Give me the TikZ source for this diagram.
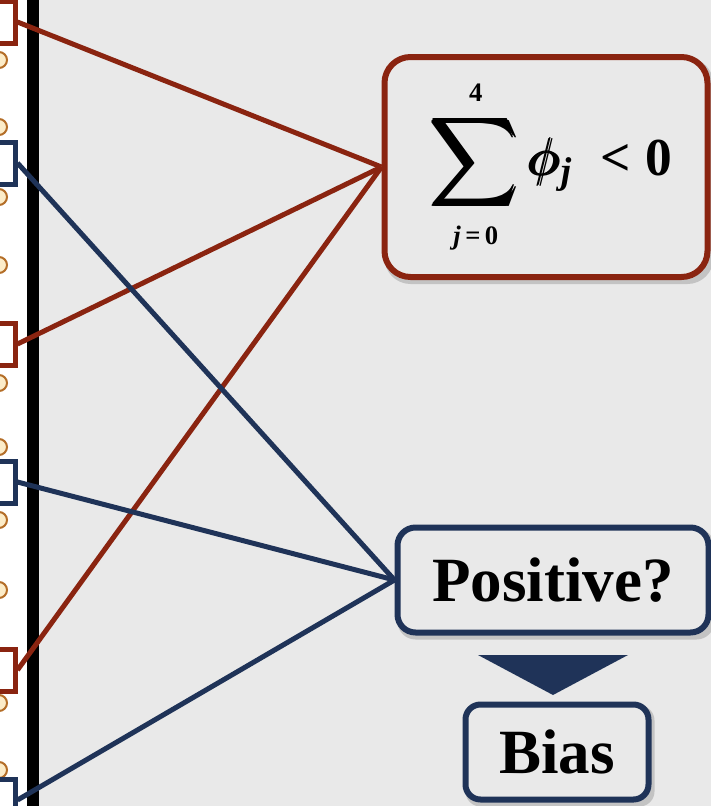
\documentclass[tikz,border=0pt]{standalone}
\usepackage{amsmath}
\usepackage{fontspec}
\setmainfont{Liberation Serif}
\definecolor{cred}{RGB}{138,36,16}
\definecolor{cblue}{RGB}{31,51,88}
\definecolor{bg}{RGB}{233,233,233}
\definecolor{ballfill}{RGB}{252,236,200}
\definecolor{ballrim}{RGB}{180,110,40}
\newcommand\bigsummation{\mathop{\vcenter{\hbox{\scalebox{1.15}{\pmb{$\displaystyle\sum$}}}}}\limits}
\newcommand\bfi[1]{\text{\bfseries\itshape #1}}
\newcommand\bfu[1]{\text{\bfseries #1}}
\newsavebox\formulabox
\AtBeginDocument{\sbox\formulabox{$\displaystyle\bigsummation_{\scriptscriptstyle\bfi{j}\bfu{\,=\,0}}^{\scriptscriptstyle\bfu{4}}\pmb{\phi}_{\bfi{j}}\mskip 4mu\mathrel{\bfu{<}}\bfu{0}$}}
\pgfdeclarelayer{back}
\pgfdeclarelayer{shade}
\pgfsetlayers{back,shade,main}
\tikzset{
  sumbox/.style={draw=cred,line width=6pt,fill=bg,rounded corners=26pt,inner sep=0pt},
  bluebox/.style={draw=cblue,line width=6pt,fill=bg,rounded corners=18pt,inner sep=0pt,
    font=\fontsize{63}{70}\selectfont\bfseries},
  redsq/.style={draw=cred,line width=5pt,fill=white,minimum width=34pt,minimum height=42pt,inner sep=0pt},
  bluesq/.style={draw=cblue,line width=5pt,fill=white,minimum width=34pt,minimum height=42pt,inner sep=0pt},
  redline/.style={draw=cred,line width=5pt},
  blueline/.style={draw=cblue,line width=5pt},
  ball/.style={fill=ballfill,draw=ballrim,line width=2pt},
  shadowfill/.style={fill=black,opacity=0.16}
}
\begin{document}
\begin{tikzpicture}[x=1pt,y=-1pt]
\useasboundingbox (0,0) rectangle (711,806);
% left squares
\node[redsq] (r1) at (-2,22) {};
\node[bluesq] (b1) at (-2,163) {};
\node[redsq] (r2) at (-2,344) {};
\node[bluesq] (b2) at (-2,482) {};
\node[redsq] (r3) at (-2,670) {};
\node[bluesq] (b3) at (-2,800) {};
% boxes
\node[sumbox,minimum width=323pt,minimum height=220pt] (sumnode) at (546,167) {\hspace*{12pt}\raisebox{-5pt}{\resizebox{241pt}{!}{\usebox\formulabox}}};
\node[bluebox,minimum width=311pt,minimum height=105pt] (pos) at (553,580) {Positive?};
\node[bluebox,rounded corners=15pt,minimum width=183pt,minimum height=95pt] (bias) at (557,752) {Bias};
% arrow triangle
\fill[cblue] (478,655) -- (628,655) -- (553,695) -- cycle;
% connectors
\draw[redline] (r1.east) -- (sumnode.west);
\draw[redline] (r2.east) -- (sumnode.west);
\draw[redline] (r3.east) -- (sumnode.west);
\draw[blueline] (b1.east) -- (pos.west);
\draw[blueline] (b2.east) -- (pos.west);
\draw[blueline] (b3.east) -- (pos.west);
\begin{pgfonlayer}{back}
\fill[bg] (0,0) rectangle (711,806);
\fill[white] (0,0) rectangle (27,806);
\fill[black] (27,0) rectangle (39,806);
\foreach \yy in {60,127,197,265,383,447,520,590,703,770}
  \path[ball] (-1,\yy) circle[radius=8pt];
\end{pgfonlayer}
\begin{pgfonlayer}{shade}
\fill[shadowfill,rounded corners=26pt] ([shift={(3,4)}]sumnode.north west) rectangle ([shift={(3,4)}]sumnode.south east);
\fill[shadowfill,rounded corners=18pt] ([shift={(3,4)}]pos.north west) rectangle ([shift={(3,4)}]pos.south east);
\fill[shadowfill,rounded corners=15pt] ([shift={(3,4)}]bias.north west) rectangle ([shift={(3,4)}]bias.south east);
\end{pgfonlayer}
\end{tikzpicture}
\end{document}
